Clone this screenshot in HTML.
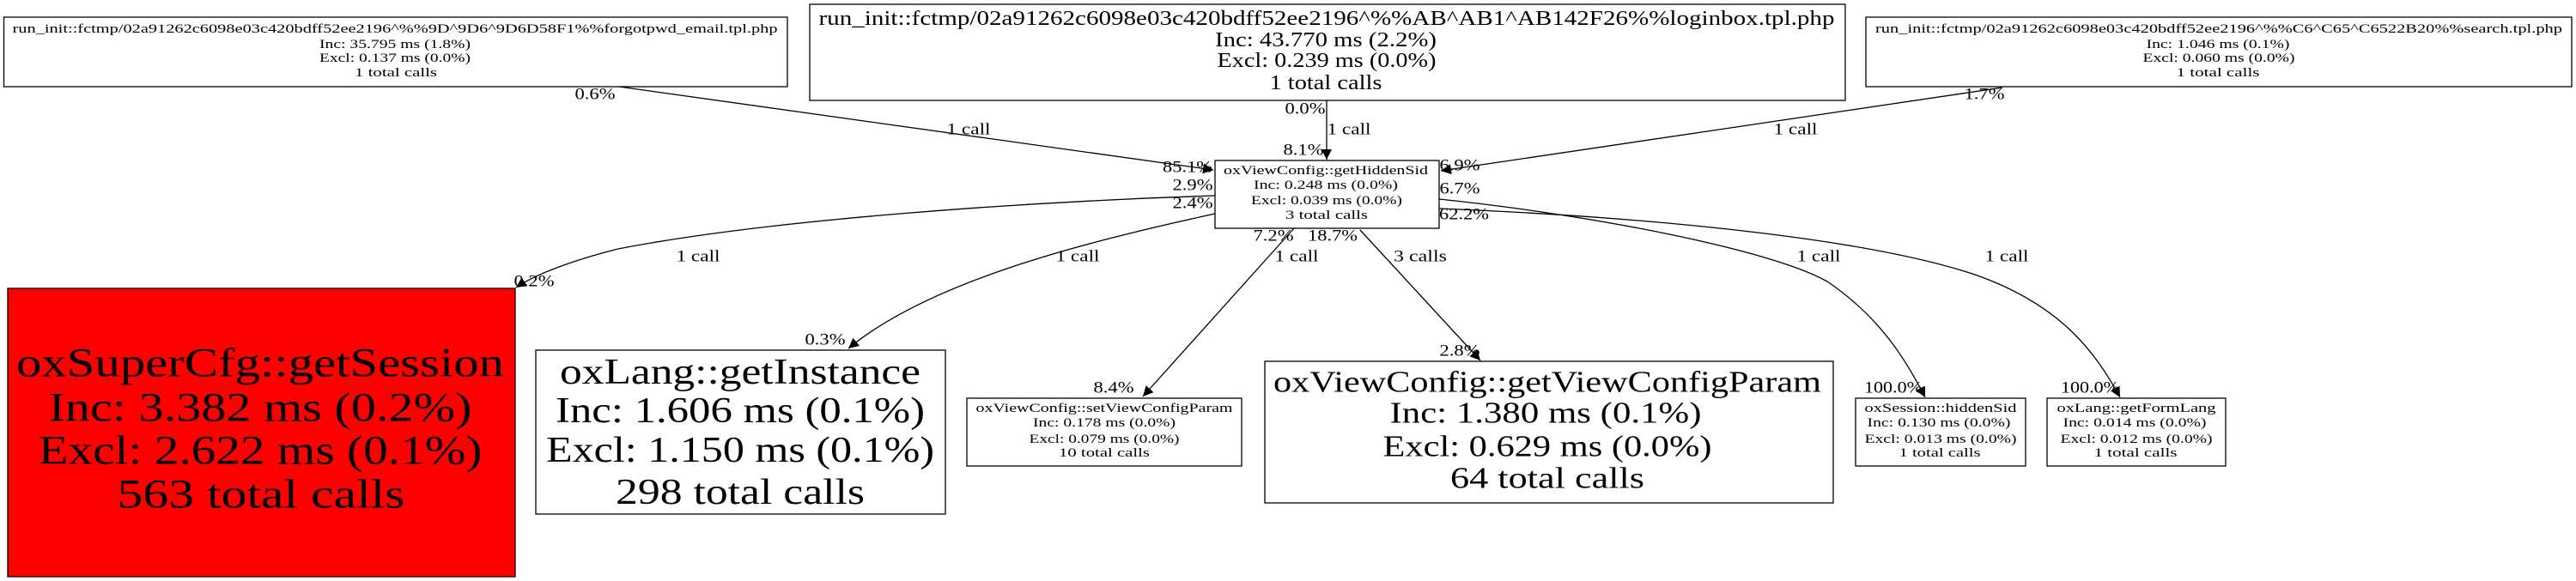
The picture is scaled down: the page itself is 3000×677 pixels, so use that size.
<!DOCTYPE html>
<html><head><meta charset="utf-8"><style>
html,body{margin:0;padding:0;background:#fff;}
svg{display:block;font-family:"Liberation Serif","DejaVu Serif",serif;}
text{dominant-baseline:central;text-anchor:middle;fill:#000;}
.s{font-size:15px;}
</style></head><body>
<svg width="3000" height="677" viewBox="0 0 3000 677" xmlns="http://www.w3.org/2000/svg">
<defs>
<marker id="a" viewBox="0 0 10 10" refX="10" refY="5" markerWidth="12" markerHeight="12" markerUnits="userSpaceOnUse" orient="auto">
<path d="M0,0 L10,5 L0,10 z" fill="#000"/></marker>
</defs>
<g fill="none" stroke="#000" stroke-width="1.3">
<path d="M721,101 L1413,198" marker-end="url(#a)"/>
<path d="M1545,117 L1545,186" marker-end="url(#a)"/>
<path d="M2332,102 L1678,199" marker-end="url(#a)"/>
<path d="M1415,228 C1200,235 900,255 720,290 C660,305 620,322 601,335" marker-end="url(#a)"/>
<path d="M1415,249 C1250,285 1080,330 988,406" marker-end="url(#a)"/>
<path d="M1507,266 L1331,462" marker-end="url(#a)"/>
<path d="M1584,268 L1724,420" marker-end="url(#a)"/>
<path d="M1676,243 C1850,250 2150,270 2300,320 C2400,355 2440,410 2469,463" marker-end="url(#a)"/>
<path d="M1676,232 C1850,250 2060,290 2128,328 C2190,370 2220,420 2242,463" marker-end="url(#a)"/>
</g>
<g stroke="#000" stroke-width="1.3">
<rect x="4.5" y="20" width="912.5" height="81" fill="#fff"/>
<rect x="943" y="5" width="1206" height="112" fill="#fff"/>
<rect x="2173" y="20" width="822" height="81" fill="#fff"/>
<rect x="1415" y="187" width="261" height="79" fill="#fff"/>
<rect x="9" y="336" width="591" height="336" fill="#ff0000"/>
<rect x="624" y="408" width="477" height="191" fill="#fff"/>
<rect x="1126" y="464" width="320" height="79" fill="#fff"/>
<rect x="1473" y="421" width="662" height="165" fill="#fff"/>
<rect x="2161" y="464" width="198" height="79" fill="#fff"/>
<rect x="2384" y="464" width="208" height="79" fill="#fff"/>
</g>
<g>
<text class="s" x="460" y="34" textLength="891" lengthAdjust="spacingAndGlyphs">run_init::fctmp/02a91262c6098e03c420bdff52ee2196^%%9D^9D6^9D6D58F1%%forgotpwd_email.tpl.php</text>
<text class="s" x="460" y="52" textLength="176" lengthAdjust="spacingAndGlyphs">Inc: 35.795 ms (1.8%)</text>
<text class="s" x="460" y="68" textLength="176" lengthAdjust="spacingAndGlyphs">Excl: 0.137 ms (0.0%)</text>
<text class="s" x="461" y="85" textLength="96" lengthAdjust="spacingAndGlyphs">1 total calls</text>

<text style="font-size:24px" x="1545" y="22" textLength="1183" lengthAdjust="spacingAndGlyphs">run_init::fctmp/02a91262c6098e03c420bdff52ee2196^%%AB^AB1^AB142F26%%loginbox.tpl.php</text>
<text style="font-size:24px" x="1544" y="47" textLength="258" lengthAdjust="spacingAndGlyphs">Inc: 43.770 ms (2.2%)</text>
<text style="font-size:24px" x="1545" y="71" textLength="255" lengthAdjust="spacingAndGlyphs">Excl: 0.239 ms (0.0%)</text>
<text style="font-size:24px" x="1544" y="97" textLength="131" lengthAdjust="spacingAndGlyphs">1 total calls</text>

<text class="s" x="2584" y="34" textLength="800" lengthAdjust="spacingAndGlyphs">run_init::fctmp/02a91262c6098e03c420bdff52ee2196^%%C6^C65^C6522B20%%search.tpl.php</text>
<text class="s" x="2583" y="52" textLength="167" lengthAdjust="spacingAndGlyphs">Inc: 1.046 ms (0.1%)</text>
<text class="s" x="2584" y="68" textLength="177" lengthAdjust="spacingAndGlyphs">Excl: 0.060 ms (0.0%)</text>
<text class="s" x="2583" y="85" textLength="97" lengthAdjust="spacingAndGlyphs">1 total calls</text>

<text class="s" x="1544" y="199" textLength="238" lengthAdjust="spacingAndGlyphs">oxViewConfig::getHiddenSid</text>
<text class="s" x="1544" y="216" textLength="168" lengthAdjust="spacingAndGlyphs">Inc: 0.248 ms (0.0%)</text>
<text class="s" x="1545" y="234" textLength="176" lengthAdjust="spacingAndGlyphs">Excl: 0.039 ms (0.0%)</text>
<text class="s" x="1545" y="251" textLength="96" lengthAdjust="spacingAndGlyphs">3 total calls</text>

<text style="font-size:48px" x="303" y="423" textLength="568" lengthAdjust="spacingAndGlyphs">oxSuperCfg::getSession</text>
<text style="font-size:48px" x="303" y="475" textLength="493" lengthAdjust="spacingAndGlyphs">Inc: 3.382 ms (0.2%)</text>
<text style="font-size:48px" x="303" y="525" textLength="517" lengthAdjust="spacingAndGlyphs">Excl: 2.622 ms (0.1%)</text>
<text style="font-size:48px" x="304" y="576" textLength="335" lengthAdjust="spacingAndGlyphs">563 total calls</text>

<text style="font-size:42px" x="862" y="434" textLength="420" lengthAdjust="spacingAndGlyphs">oxLang::getInstance</text>
<text style="font-size:42px" x="862" y="479" textLength="430" lengthAdjust="spacingAndGlyphs">Inc: 1.606 ms (0.1%)</text>
<text style="font-size:42px" x="862" y="525" textLength="452" lengthAdjust="spacingAndGlyphs">Excl: 1.150 ms (0.1%)</text>
<text style="font-size:42px" x="862" y="574" textLength="290" lengthAdjust="spacingAndGlyphs">298 total calls</text>

<text class="s" x="1286" y="476" textLength="299" lengthAdjust="spacingAndGlyphs">oxViewConfig::setViewConfigParam</text>
<text class="s" x="1286" y="493" textLength="166" lengthAdjust="spacingAndGlyphs">Inc: 0.178 ms (0.0%)</text>
<text class="s" x="1286" y="512" textLength="175" lengthAdjust="spacingAndGlyphs">Excl: 0.079 ms (0.0%)</text>
<text class="s" x="1286" y="528" textLength="106" lengthAdjust="spacingAndGlyphs">10 total calls</text>

<text style="font-size:35px" x="1802" y="445" textLength="638" lengthAdjust="spacingAndGlyphs">oxViewConfig::getViewConfigParam</text>
<text style="font-size:35px" x="1800" y="481" textLength="363" lengthAdjust="spacingAndGlyphs">Inc: 1.380 ms (0.1%)</text>
<text style="font-size:35px" x="1802" y="520" textLength="383" lengthAdjust="spacingAndGlyphs">Excl: 0.629 ms (0.0%)</text>
<text style="font-size:35px" x="1802" y="557" textLength="226" lengthAdjust="spacingAndGlyphs">64 total calls</text>

<text class="s" x="2260" y="476" textLength="177" lengthAdjust="spacingAndGlyphs">oxSession::hiddenSid</text>
<text class="s" x="2258" y="493" textLength="167" lengthAdjust="spacingAndGlyphs">Inc: 0.130 ms (0.0%)</text>
<text class="s" x="2260" y="512" textLength="177" lengthAdjust="spacingAndGlyphs">Excl: 0.013 ms (0.0%)</text>
<text class="s" x="2259" y="528" textLength="95" lengthAdjust="spacingAndGlyphs">1 total calls</text>

<text class="s" x="2488" y="476" textLength="185" lengthAdjust="spacingAndGlyphs">oxLang::getFormLang</text>
<text class="s" x="2486" y="493" textLength="167" lengthAdjust="spacingAndGlyphs">Inc: 0.014 ms (0.0%)</text>
<text class="s" x="2488" y="512" textLength="177" lengthAdjust="spacingAndGlyphs">Excl: 0.012 ms (0.0%)</text>
<text class="s" x="2487" y="528" textLength="97" lengthAdjust="spacingAndGlyphs">1 total calls</text>
</g>
<g style="font-size:19px">
<text x="693" y="110" textLength="47" lengthAdjust="spacingAndGlyphs">0.6%</text>
<text x="1128" y="151" textLength="51" lengthAdjust="spacingAndGlyphs">1 call</text>
<text x="1520" y="127" textLength="47" lengthAdjust="spacingAndGlyphs">0.0%</text>
<text x="1571" y="151" textLength="51" lengthAdjust="spacingAndGlyphs">1 call</text>
<text x="1518" y="175" textLength="47" lengthAdjust="spacingAndGlyphs">8.1%</text>
<text x="2311" y="110" textLength="47" lengthAdjust="spacingAndGlyphs">1.7%</text>
<text x="2091" y="151" textLength="51" lengthAdjust="spacingAndGlyphs">1 call</text>
<text x="1383" y="195" textLength="58" lengthAdjust="spacingAndGlyphs">85.1%</text>
<text x="1389" y="216" textLength="47" lengthAdjust="spacingAndGlyphs">2.9%</text>
<text x="1389" y="237" textLength="47" lengthAdjust="spacingAndGlyphs">2.4%</text>
<text x="1700" y="193" textLength="47" lengthAdjust="spacingAndGlyphs">6.9%</text>
<text x="1700" y="220" textLength="47" lengthAdjust="spacingAndGlyphs">6.7%</text>
<text x="1705" y="250" textLength="58" lengthAdjust="spacingAndGlyphs">62.2%</text>
<text x="1483" y="275" textLength="47" lengthAdjust="spacingAndGlyphs">7.2%</text>
<text x="1552" y="275" textLength="58" lengthAdjust="spacingAndGlyphs">18.7%</text>
<text x="813" y="299" textLength="51" lengthAdjust="spacingAndGlyphs">1 call</text>
<text x="622" y="328" textLength="47" lengthAdjust="spacingAndGlyphs">0.2%</text>
<text x="1255" y="299" textLength="51" lengthAdjust="spacingAndGlyphs">1 call</text>
<text x="961" y="396" textLength="47" lengthAdjust="spacingAndGlyphs">0.3%</text>
<text x="1510" y="299" textLength="51" lengthAdjust="spacingAndGlyphs">1 call</text>
<text x="1297" y="452" textLength="47" lengthAdjust="spacingAndGlyphs">8.4%</text>
<text x="1654" y="299" textLength="62" lengthAdjust="spacingAndGlyphs">3 calls</text>
<text x="1700" y="409" textLength="47" lengthAdjust="spacingAndGlyphs">2.8%</text>
<text x="2118" y="299" textLength="51" lengthAdjust="spacingAndGlyphs">1 call</text>
<text x="2337" y="299" textLength="51" lengthAdjust="spacingAndGlyphs">1 call</text>
<text x="2205" y="452" textLength="68" lengthAdjust="spacingAndGlyphs">100.0%</text>
<text x="2434" y="452" textLength="68" lengthAdjust="spacingAndGlyphs">100.0%</text>
</g>
</svg>
</body></html>
